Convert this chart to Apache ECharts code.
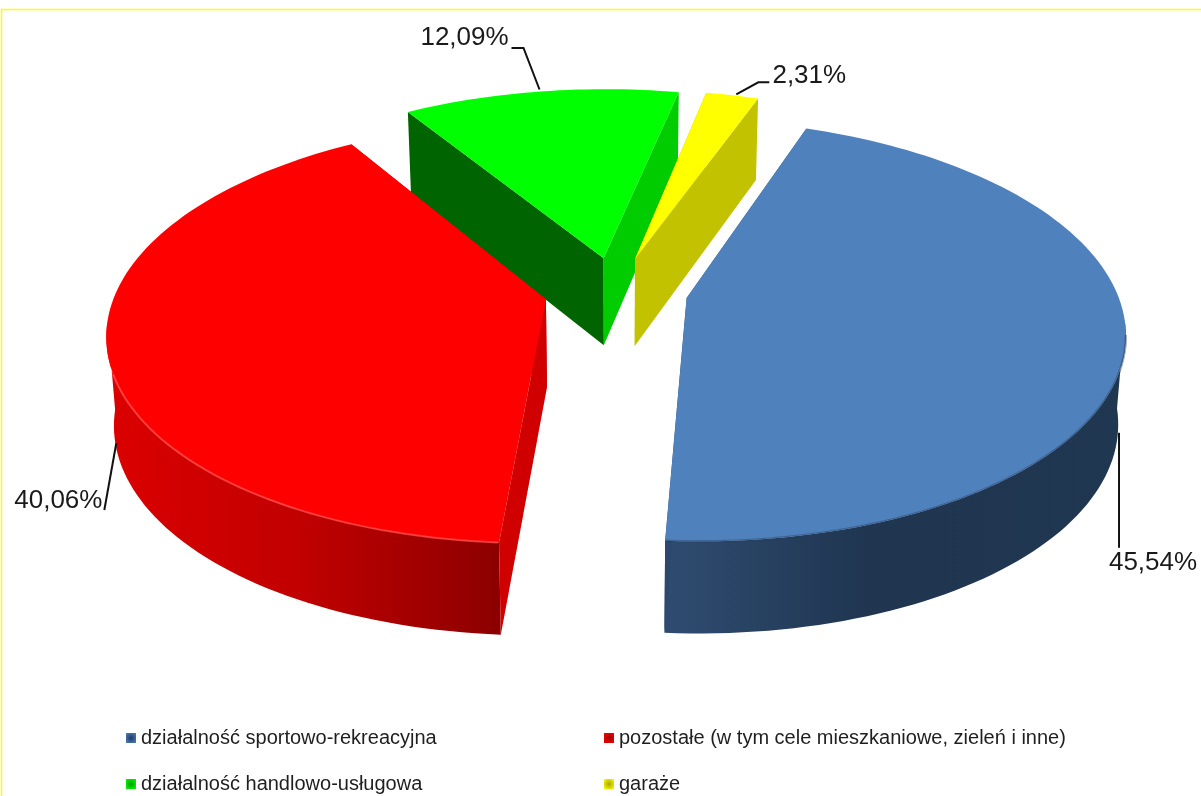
<!DOCTYPE html>
<html><head><meta charset="utf-8">
<style>html,body{margin:0;padding:0;background:#fff}#c{width:1201px;height:796px}</style>
<script src="https://cdn.jsdelivr.net/npm/echarts@6/dist/echarts.min.js"></script>
</head><body><div id="c"></div>
<script>
// ---- data (clockwise from the start angle) ----
const categories = ['działalność sportowo-rekreacyjna','pozostałe (w tym cele mieszkaniowe, zieleń i inne)','działalność handlowo-usługowa','garaże'];
const values = [45.54, 40.06, 12.09, 2.31];

// ---- view settings ----
const topColors = ['#4f81bd','#ff0000','#00ff00','#ffff00'];
const cutStartColors = ['#2c486c','#d00000','#006400','#c2c200'];
const cutEndColors = ['#2c486c','#d00000','#00cc00','#c2c200'];
const wallStops = [
 [[0,'#2f4c70'],[0.45,'#1f3550'],[1,'#203751']],
 [[0,'#dc0000'],[0.5,'#c00000'],[1,'#8c0000']],
 [[0,'#006400'],[1,'#006400']],
 [[0,'#c2c200'],[1,'#c2c200']]
];
const rimColors = ['rgba(35,60,95,0.4)','rgba(255,70,70,0.8)',null,null];
const rimRanges = [[100,184],[184,250],null,null];
const leaderOffsets = [
 [[1,2],[1,117]],
 [[1.4,2.5],[-10.6,69.5]],
 [[-1,-2],[-17,-43.5],[-29,-43.5]],
 [[4,-1],[26,-13],[37,-13]]
];
const labelOffsets = [[35,132],[-56.6,60.5],[-76,-53.5],[77,-19]];
const drawOrder = [2,3,1,0];
const START = 19.9, EXPLODE = 0.167, CX = 616, CY = 291, R = 430, RY = 204, P = 0.152;
const WALL_FROM = 96, WALL_TO = 264;

const total = values.reduce((a,b)=>a+b,0);
const rad = d => d*Math.PI/180;
function angles(i){
  let a = START;
  for(let j=0;j<i;j++) a += values[j]/total*360;
  return [a, a + values[i]/total*360];
}
function project(X,Y,down){
  const k = 1/(1-P*Y);
  let sx = CX + X*R*k, sy = CY + Y*RY*k;
  if(down){ sx = CX + (sx-CX)*0.985; sy += 88 + (Y>0?4:6)*Y; }
  return [sx,sy];
}
function renderSlice(i){
  const [a0,a1] = angles(i), m = (a0+a1)/2;
  const ox = EXPLODE*Math.sin(rad(m)), oy = -EXPLODE*Math.cos(rad(m));
  const rim = (t,down)=>project(ox+Math.sin(rad(t)), oy-Math.cos(rad(t)), down);
  const centre = d=>project(ox,oy,d);
  const arc = (from,to,down)=>{
    const out=[], n=Math.max(4,Math.ceil((to-from)/1.5));
    for(let s=0;s<=n;s++) out.push(rim(from+(to-from)*s/n,down));
    return out;
  };
  const kids=[];
  const poly=(points,fill)=>kids.push({type:'polygon',shape:{points},style:{fill,stroke:null}});
  const w0=Math.max(a0,WALL_FROM), w1=Math.min(a1,WALL_TO);
  if(w1>w0){
    poly(arc(w0,w1,false).concat(arc(w0,w1,true).reverse()),
      {type:'linear',x:0,y:0,x2:1,y2:0,colorStops:wallStops[i].map(s=>({offset:s[0],color:s[1]}))});
  }
  poly([centre(false),rim(a0,false),rim(a0,true),centre(true)],cutStartColors[i]);
  poly([centre(false),rim(a1,false),rim(a1,true),centre(true)],cutEndColors[i]);
  poly([centre(false)].concat(arc(a0,a1,false)),topColors[i]);
  if(rimColors[i]){
    kids.push({type:'polyline',shape:{points:arc(Math.max(a0,rimRanges[i][0]),Math.min(a1,rimRanges[i][1]),false)},
      style:{fill:null,stroke:rimColors[i],lineWidth:i===0?2.5:2}});
  }
  // leader and percentage text
  const front = Math.cos(rad(m))<0;
  const anchor = rim(m,front);
  const lp = leaderOffsets[i].map(o=>[anchor[0]+o[0],anchor[1]+o[1]]);
  kids.push({type:'polyline',shape:{points:lp},style:{fill:null,stroke:'#111',lineWidth:2}});
  const lo = labelOffsets[i];
  kids.push({type:'text',style:{x:anchor[0]+lo[0],y:anchor[1]+lo[1],text:values[i].toFixed(2).replace('.',',')+'%',
    fill:'#1a1a1a',font:'26px "Liberation Sans"',align:'center',verticalAlign:'middle'}});
  return {type:'group',children:kids};
}
const chart = echarts.init(document.getElementById('c'),null,{renderer:'canvas'});
function legendIcon(c,d){return {color:{type:'radial',x:0.5,y:0.5,r:0.7,colorStops:[{offset:0,color:d},{offset:1,color:c}]}};}
const legendDark=['#1f3a66','#a00000','#00a000','#a8a800'];
const legendBase={orient:'vertical',itemWidth:10,itemHeight:10,itemGap:26,icon:'rect',padding:0,selectedMode:false,
  textStyle:{fontFamily:'Liberation Sans',fontSize:20,color:'#1f1f1f',padding:[0,0,0,0]}};
chart.setOption({
  animation:false,
  backgroundColor:'#ffffff',
  legend:[
    Object.assign({},legendBase,{left:126,top:728,data:[0,2].map(i=>({name:categories[i],itemStyle:legendIcon(topColors[i],legendDark[i])}))}),
    Object.assign({},legendBase,{left:604,top:728,data:[1,3].map(i=>({name:categories[i],itemStyle:legendIcon(topColors[i],legendDark[i])}))})
  ],
  graphic:[
    {type:'polyline',silent:true,shape:{points:[[1.5,796],[1.5,9.5],[1201,9.5]]},style:{fill:null,stroke:'#ffff00',lineWidth:1.5}}
  ],
  series:drawOrder.map(i=>({
    type:'custom',name:categories[i],coordinateSystem:'none',silent:true,
    itemStyle:{color:topColors[i]},
    data:[[values[i]]],
    renderItem:()=>renderSlice(i)
  }))
});
</script></body></html>
